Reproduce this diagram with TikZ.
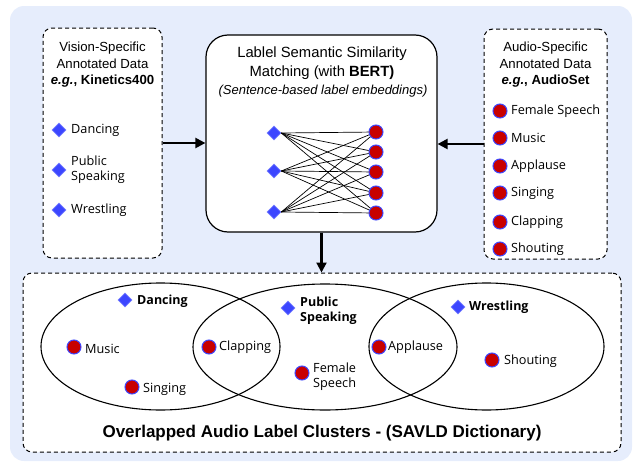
\documentclass[tikz,border=0pt]{standalone}
\usepackage{fontspec}
\setmainfont{Liberation Sans}
\newfontfamily\comic{Open Sans}
\usetikzlibrary{shapes.geometric,arrows.meta}
\definecolor{bgblue}{RGB}{230,237,252}
\definecolor{dblue}{RGB}{60,70,255}
\definecolor{dred}{RGB}{200,0,0}
\begin{document}
\begin{tikzpicture}[x=1pt,y=-1pt,
  dbox/.style={draw, dashed, dash pattern=on 4pt off 3pt, line width=1pt, rounded corners=9pt, fill=white, inner sep=0pt},
  sbox/.style={draw, line width=1.2pt, rounded corners=22pt, fill=white, inner sep=0pt},
  dia/.style={diamond, fill=dblue, draw=dblue!70!white, line width=0.6pt, minimum size=14pt, inner sep=0pt},
  cir/.style={circle, fill=dred, draw=dblue, line width=1pt, minimum size=14pt, inner sep=0pt},
  lab/.style={anchor=west, font=\comic\fontsize{12.7}{15}\selectfont, inner sep=1pt, align=left},
  blab/.style={anchor=west, font=\comic\bfseries\fontsize{12.5}{15}\selectfont, inner sep=1pt, align=left},
  head/.style={font=\fontsize{13.2}{16.5}\selectfont, align=center},
  arr/.style={line width=2.2pt, -{Triangle[length=10pt,width=10pt]}},
  ell/.style={draw, ellipse, line width=1.1pt, inner sep=0pt}]
\useasboundingbox (0,0) rectangle (643,471);
\fill[bgblue, rounded corners=14pt] (10,6) rectangle (632,461);

% boxes
\node[dbox, minimum width=119pt, minimum height=230pt] (vis) at (102.5,143) {};
\node[sbox, minimum width=231pt, minimum height=197pt] (mid) at (321.5,133.5) {};
\node[dbox, minimum width=123pt, minimum height=230pt] (aud) at (545.5,144) {};
\node[dbox, minimum width=598pt, minimum height=179pt] (bot) at (322,362.5) {};

% left box content
\node[head] (vish) at (102.5,65) {Vision-Specific\\Annotated Data\\\textbf{\textit{e.g.}, Kinetics400}};
\node[dia] (vd1) at (59,130) {};
\node[dia] (vd2) at (59,170) {};
\node[dia] (vd3) at (59,210) {};
\node[lab] (vl1) at (70,130) {Dancing};
\node[lab] (vl2) at (70,170) {Public\\Speaking};
\node[lab] (vl3) at (70,210) {Wrestling};

% right box content
\node[head] (audh) at (545.5,65) {Audio-Specific\\Annotated Data\\\textbf{\textit{e.g.}, AudioSet}};
\node[cir] (ac1) at (500,111) {};
\node[cir] (ac2) at (500,138) {};
\node[cir] (ac3) at (500,166) {};
\node[cir] (ac4) at (500,193) {};
\node[cir] (ac5) at (500,222) {};
\node[cir] (ac6) at (500,249) {};
\node[lab] (al1) at (510,111) {Female Speech};
\node[lab] (al2) at (510,138) {Music};
\node[lab] (al3) at (510,166) {Applause};
\node[lab] (al4) at (510,193) {Singing};
\node[lab] (al5) at (510,222) {Clapping};
\node[lab] (al6) at (510,249) {Shouting};

% middle box content
\node[font=\fontsize{14.8}{18.5}\selectfont, align=center] (midh) at (322,63) {Lablel Semantic Similarity\\Matching (with \textbf{BERT)}};
\node[font=\itshape\fontsize{13}{15}\selectfont] (midi) at (323,91) {(Sentence-based label embeddings)};
\node[dia] (d1) at (274,133) {};
\node[dia] (d2) at (274,171) {};
\node[dia] (d3) at (274,212) {};
\node[cir] (c1) at (376,132) {};
\node[cir] (c2) at (376,152) {};
\node[cir] (c3) at (376,172) {};
\node[cir] (c4) at (376,193) {};
\node[cir] (c5) at (376,213) {};
\foreach \i in {1,2,3}{\foreach \j in {1,...,5}{\draw[line width=0.7pt] (d\i.east) -- (c\j);}}

% arrows
\draw[arr] (vis.east) -- (vis.east -| mid.west);
\draw[arr] (aud.west) -- (aud.west -| mid.east);
\draw[arr] (mid.south) -- (mid.south |- bot.north);

% ellipses
\node[ell, minimum width=239pt, minimum height=127pt] (e1) at (160.5,346.5) {};
\node[ell, minimum width=264pt, minimum height=126pt] (e2) at (325,347) {};
\node[ell, minimum width=235pt, minimum height=127pt] (e3) at (486.5,346.5) {};

\node[dia] (bd1) at (125,300) {};
\node[blab] (bl1) at (136,301) {Dancing};
\node[cir] (bc1) at (74,347) {};
\node[lab] (bm1) at (84,349) {Music};
\node[cir] (bc2) at (132,387) {};
\node[lab] (bm2) at (142,389) {Singing};
\node[cir] (bc3) at (209,347) {};
\node[lab] (bm3) at (218,347) {Clapping};
\node[dia] (bd2) at (288,308) {};
\node[blab] (bl2) at (299,311) {Public\\Speaking};
\node[cir] (bc4) at (302,373) {};
\node[lab] (bm4) at (312,377) {Female\\Speech};
\node[cir] (bc5) at (379,347) {};
\node[lab] (bm5) at (387,347) {Applause};
\node[dia] (bd3) at (458,307) {};
\node[blab] (bl3) at (468,307) {Wrestling};
\node[cir] (bc6) at (492,360) {};
\node[lab] (bm6) at (503,361) {Shouting};

\node[font=\bfseries\fontsize{17}{20}\selectfont] (title) at (322,433) {Overlapped Audio Label Clusters - (SAVLD Dictionary)};
\end{tikzpicture}
\end{document}
